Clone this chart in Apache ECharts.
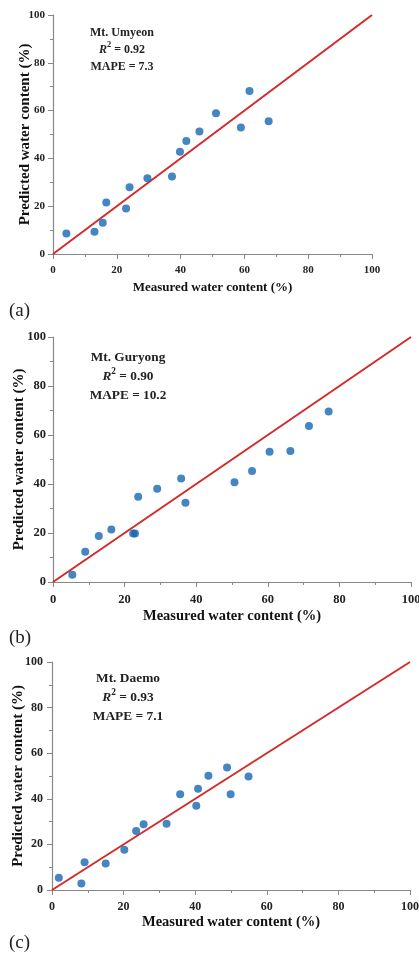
<!DOCTYPE html>
<html>
<head>
<meta charset="utf-8">
<script src="https://cdn.jsdelivr.net/npm/echarts@6/dist/echarts.min.js"></script>
<style>
  html, body { margin: 0; padding: 0; background: #fff; }
  #main { width: 419px; height: 954px; }
</style>
</head>
<body>
<div id="main"></div>
<script>
// measured vs predicted water content
const umyeonMeasured = [4.2, 13.0, 15.6, 16.7, 22.9, 24.0, 29.6, 37.3, 39.8, 41.8, 45.9, 51.1, 58.9, 61.6, 67.6]
const umyeonPredicted = [8.6, 9.3, 13.1, 21.6, 19.0, 27.9, 31.7, 32.4, 42.8, 47.3, 51.3, 58.9, 52.9, 68.2, 55.5]

const guryongMeasured = [5.4, 9.0, 12.8, 16.3, 22.4, 22.9, 23.8, 29.1, 35.8, 37.0, 50.7, 55.6, 60.5, 66.3, 71.5, 77.0]
const guryongPredicted = [3.0, 12.3, 18.8, 21.4, 19.8, 19.8, 34.8, 38.1, 42.2, 32.3, 40.7, 45.3, 53.2, 53.5, 63.7, 69.6]

const daemoMeasured = [1.9, 8.2, 9.1, 15.0, 20.2, 23.5, 25.6, 32.0, 35.8, 40.3, 40.8, 43.7, 48.9, 49.9, 54.9]
const daemoPredicted = [5.4, 2.9, 12.2, 11.6, 17.6, 25.9, 28.8, 29.1, 42.0, 36.9, 44.4, 50.1, 53.7, 42.0, 49.8]

const panelNames = ['Mt. Umyeon', 'Mt. Guryong', 'Mt. Daemo']
const r2Values = ['0.92', '0.90', '0.93']
const mapeValues = ['7.3', '10.2', '7.1']
const panelTags = ['(a)', '(b)', '(c)']
const oneToOne = [0, 100]

const panels = [
  [umyeonMeasured, umyeonPredicted],
  [guryongMeasured, guryongPredicted],
  [daemoMeasured, daemoPredicted]
]

const serif = '"Liberation Serif", "DejaVu Serif", serif'
// per-panel layout (the three panels were scaled a little differently in the source)
const gridBoxes = [
  { left: 53, top: 15, width: 319, height: 239 },
  { left: 53, top: 337, width: 358, height: 245 },
  { left: 52, top: 662, width: 358, height: 228 }
]
const xNameSize = [13, 14.5, 14.5]
const xNameGap = [27, 27, 25]
const yNameSize = [15, 15, 15]
const yNameGap = [20, 26, 26]
const yLabelMargin = [8, 7, 9]
const tickSize = [11, 12.5, 12]
const noteSize = [12, 13.3, 13.4]
const noteCenter = [117, 123, 123]
const noteTop = [19, 343, 664]
const tagTops = [297, 624, 929]

var chartDom = document.getElementById('main');
var myChart = echarts.init(chartDom);
var option;

let grids = [], xAxes = [], yAxes = [], series = [], titles = []

for (let i = 0; i < 3; ++i) {
  grids.push(Object.assign({ outerBoundsMode: 'none', containLabel: false }, gridBoxes[i]))
  let axisCommon = {
    gridIndex: i,
    type: 'value',
    min: 0,
    max: 100,
    interval: 20,
    nameLocation: 'middle',
    nameMoveOverlap: false,
    axisLine: { show: true, lineStyle: { color: '#888', width: 1.2 } },
    axisTick: { show: true, length: 5, lineStyle: { color: '#888' } },
    minorTick: { show: true, splitNumber: 2, length: 3, lineStyle: { color: '#888' } },
    splitLine: { show: false }
  }
  let tickLabel = { fontFamily: serif, fontWeight: 'bold', fontSize: tickSize[i], color: '#222' }
  xAxes.push(Object.assign({}, axisCommon, {
    name: 'Measured water content (%)',
    nameGap: xNameGap[i],
    nameTextStyle: { fontFamily: serif, fontWeight: 'bold', fontSize: xNameSize[i], color: '#111' },
    axisLabel: Object.assign({}, tickLabel, { margin: 11 })
  }))
  yAxes.push(Object.assign({}, axisCommon, {
    name: 'Predicted water content (%)',
    nameGap: yNameGap[i],
    nameTextStyle: { fontFamily: serif, fontWeight: 'bold', fontSize: yNameSize[i], color: '#111' },
    axisLabel: Object.assign({}, tickLabel, { margin: yLabelMargin[i] })
  }))

  let pts = panels[i][0].map((x, k) => [x, panels[i][1][k]])
  series.push({
    type: 'line',
    xAxisIndex: i,
    yAxisIndex: i,
    data: [[oneToOne[0], oneToOne[0]], [oneToOne[1], oneToOne[1]]],
    showSymbol: false,
    lineStyle: { color: '#d42a2a', width: 2 },
    z: 3,
    silent: true
  })
  series.push({
    type: 'scatter',
    xAxisIndex: i,
    yAxisIndex: i,
    data: pts,
    symbolSize: 8,
    itemStyle: { color: '#1766b3' },
    z: 4
  })

  // annotation block
  let fs = noteSize[i]
  let lh = Math.round(fs * 1.4)
  titles.push({
    text: '{b|' + panelNames[i] + '}\n{i|R}{sup|2}{b| = ' + r2Values[i] + '}\n{b|MAPE = ' + mapeValues[i] + '}',
    left: noteCenter[i],
    top: noteTop[i],
    textAlign: 'center',
    textStyle: {
      rich: {
        b: { fontFamily: serif, fontWeight: 'bold', fontSize: fs, color: '#222', lineHeight: lh },
        i: { fontFamily: serif, fontWeight: 'bold', fontStyle: 'italic', fontSize: fs, color: '#222', lineHeight: lh },
        sup: { fontFamily: serif, fontWeight: 'bold', fontSize: fs * 0.7, color: '#222', verticalAlign: 'top', padding: [0, 0, 6, 0], lineHeight: lh }
      }
    }
  })
  titles.push({
    text: panelTags[i],
    left: 4,
    top: tagTops[i],
    textStyle: { fontFamily: serif, fontWeight: 'normal', fontSize: 19, color: '#222' }
  })
}

option = {
  backgroundColor: '#fff',
  animation: false,
  title: titles,
  grid: grids,
  xAxis: xAxes,
  yAxis: yAxes,
  series: series
};
option && myChart.setOption(option);
</script>
</body>
</html>
